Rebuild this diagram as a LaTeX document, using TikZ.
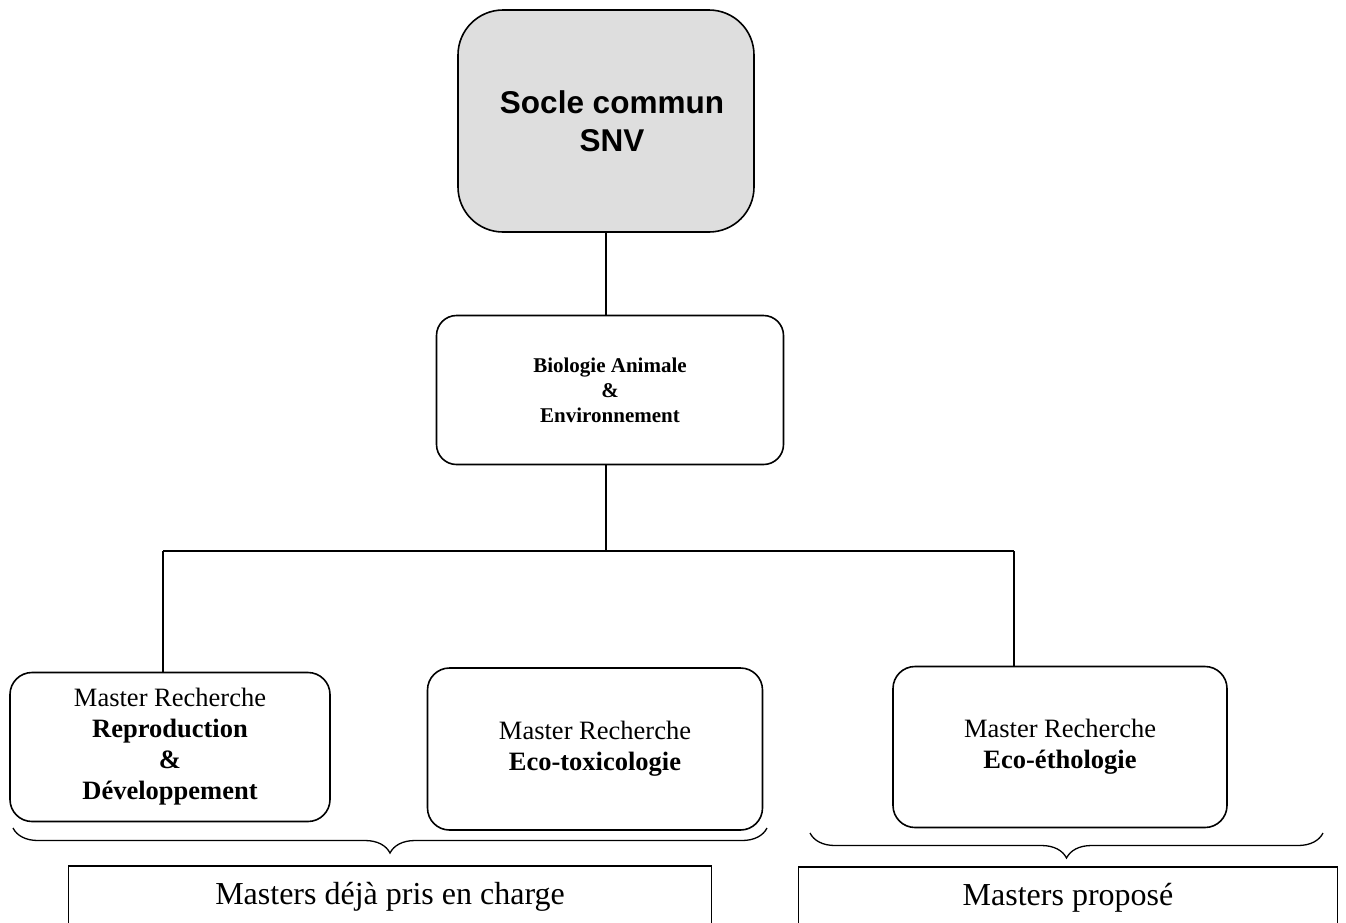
\documentclass[tikz,border=0pt]{standalone}
\usepackage{fontspec}
\setmainfont{Liberation Serif}
\newfontfamily\arialfont{Liberation Sans}
\usetikzlibrary{decorations.pathreplacing}
\definecolor{soclegray}{gray}{0.87}

\begin{document}
\begin{tikzpicture}[
		x=1pt, y=-1pt,
		line width=1.6pt,
		socle/.style = {draw, fill=soclegray, rounded corners=45pt, align=center, inner sep=0pt,
			minimum width=296pt, minimum height=222pt, font=\arialfont\bfseries\fontsize{31.5}{38}\selectfont},
		main/.style = {draw, rounded corners=22pt, align=center, inner sep=0pt, font=\fontsize{26.5}{31}\selectfont},
		foot/.style = {draw, line width=1.3pt, align=center, inner sep=0pt, minimum height=62pt, font=\fontsize{32}{38}\selectfont},
		brc/.style = {decorate, decoration={brace, mirror, amplitude=25pt}}
	]
	\useasboundingbox (0,0) rectangle (1346,922);
	\node[socle] (1) at (606,121) {\hspace*{12pt}Socle commun\\\hspace*{12pt}SNV};
	\node[main, minimum width=347pt, minimum height=149pt, rounded corners=20pt,
		font=\bfseries\fontsize{21}{25}\selectfont] (2) at (610,390) {Biologie Animale\\\&\\Environnement};
	\node[main, minimum width=320pt, minimum height=149pt] (3) at (170,747) {Master Recherche\\\textbf{Reproduction}\\\textbf{\&}\\\textbf{Développement}};
	\node[main, minimum width=335pt, minimum height=162pt] (4) at (595,749) {Master Recherche\\\textbf{Eco-toxicologie}};
	\node[main, minimum width=334pt, minimum height=161pt] (5) at (1060,747) {Master Recherche\\\textbf{Eco-éthologie}};
	\node[foot, minimum width=643pt] (6) at (390,897) {Masters déjà pris en charge};
	\node[foot, minimum width=539pt] (7) at (1068,898) {Masters proposé};
	% branches
	\coordinate (j) at (606,551);
	\coordinate (jl) at (163,551);
	\coordinate (jr) at (1014,551);
	\draw (1.south) -- (1.south |- 2.north);
	\draw (j |- 2.south) -- (j);
	\draw (jl) -- (jr);
	\draw (jl) -- (jl |- 3.north);
	\draw (jr) -- (jr |- 5.north);
	% braces
	\coordinate (b1) at (13,828);
	\coordinate (b2) at (767,828);
	\coordinate (b3) at (810,833);
	\coordinate (b4) at (1323,833);
	\draw[brc, line width=1.3pt] (b1) -- (b2);
	\draw[brc, line width=1.3pt] (b3) -- (b4);
\end{tikzpicture}
\end{document}
